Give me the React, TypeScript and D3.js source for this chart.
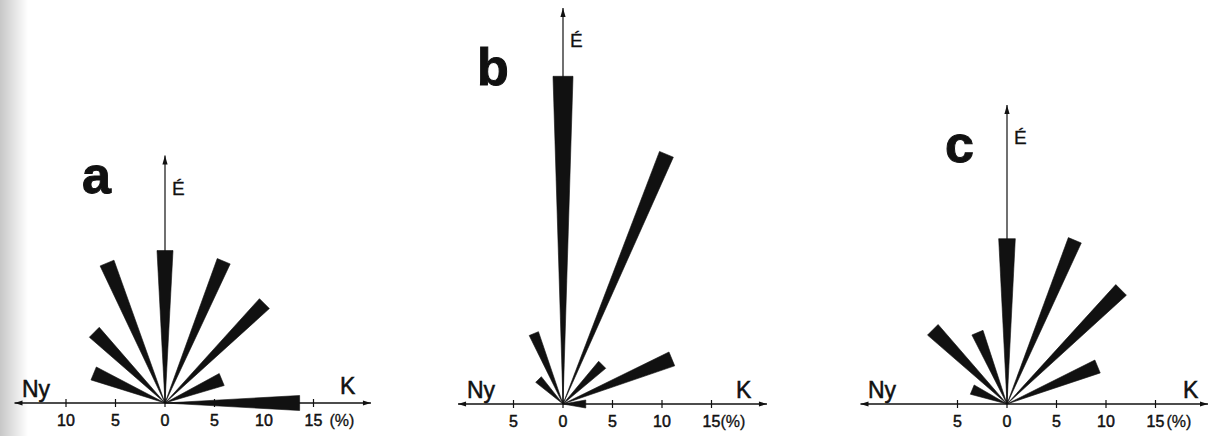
import React from 'react';
import * as d3 from 'd3';

// compass bearings, degrees clockwise from north
const BEARING: Record<string, number> = {
  WNW: -67.5, NW: -45, NNW: -22.5, N: 0, NNE: 22.5, NE: 45, ENE: 67.5, E: 90,
};

// panel a
const dirsA = ['WNW', 'NW', 'NNW', 'N', 'NNE', 'NE', 'ENE', 'E'];
const freqA = [7.8, 10.1, 15.3, 15.4, 15.5, 14.2, 6.2, 13.6];
const widthA = [7, 7, 7.5, 8, 7, 7, 6.5, 7.5];
const ticksA = [-10, -5, 0, 5, 10, 15];

// panel b
const dirsB = ['NW', 'NNW', 'N', 'NNE', 'NE', 'ENE', 'E'];
const freqB = [3.5, 7.7, 33.1, 27.3, 5.6, 11.9, 2.3];
const widthB = [4, 5, 10, 7.5, 5, 7.5, 4];
const ticksB = [-5, 0, 5, 10, 15];

// panel c
const dirsC = ['WNW', 'NW', 'NNW', 'N', 'NNE', 'NE', 'ENE'];
const freqC = [3.8, 10.6, 7.8, 16.7, 17.9, 16.3, 9.9];
const widthC = [5, 7.5, 6, 8.3, 7, 7.5, 7];
const ticksC = [-5, 0, 5, 10, 15];

const UNIT = 9.9; // px per percent
const FONT = "'Liberation Sans', Arial, sans-serif";
const INK = '#111';

const layout = [
  { name: 'a', ox: 165, oy: 403, xmin: -15.2, xmax: 20.8, ymax: 25, nyDx: -143, kDx: 175, kY: 394, letter: [82, 193], pctDx: 16 },
  { name: 'b', ox: 563, oy: 404, xmin: -10.6, xmax: 20.6, ymax: 40, nyDx: -96, kDx: 173, kY: 398, letter: [477, 85], pctDx: 9 },
  { name: 'c', ox: 1007, oy: 404, xmin: -14.8, xmax: 20.3, ymax: 30.2, nyDx: -139, kDx: 176, kY: 398, letter: [945, 162], pctDx: 11 },
];

const series = [
  { dirs: dirsA, freq: freqA, width: widthA, ticks: ticksA },
  { dirs: dirsB, freq: freqB, width: widthB, ticks: ticksB },
  { dirs: dirsC, freq: freqC, width: widthC, ticks: ticksC },
];

const wScale = d3.scaleLinear().domain([0, 1]).range([0, 2]);
const line = d3.line();

// text gets a thin outline so it reads as heavy as the printed lettering
const txt = { fontFamily: FONT, fill: INK, stroke: INK, strokeWidth: 0.5 };

function Panel({ i }: { i: number }) {
  const L = layout[i];
  const S = series[i];
  const x = d3.scaleLinear().domain([0, 1]).range([L.ox, L.ox + UNIT]);
  const y = d3.scaleLinear().domain([0, 1]).range([L.oy, L.oy - UNIT]);

  const wedges = S.dirs.map((d, k) => {
    const th = (BEARING[d] * Math.PI) / 180;
    const r = S.freq[k];
    const tx = x(r * Math.sin(th));
    const ty = y(r * Math.cos(th));
    const hw = wScale(S.width[k]) / 2;
    const px = Math.cos(th) * hw;
    const py = Math.sin(th) * hw;
    return line([[L.ox, L.oy], [tx + px, ty + py], [tx - px, ty - py]]) + 'Z';
  });

  const xl = x(L.xmin);
  const xr = x(L.xmax);
  const yt = y(L.ymax);

  return (
    <g>
      {/* horizontal axis */}
      <line x1={xl} x2={xr} y1={L.oy} y2={L.oy} stroke={INK} strokeWidth={1.3} />
      <path d={`M${xl},${L.oy}l8,-2.6v5.2z`} fill={INK} />
      <path d={`M${xr},${L.oy}l-8,-2.6v5.2z`} fill={INK} />
      {/* vertical axis */}
      <line x1={L.ox} x2={L.ox} y1={L.oy} y2={yt} stroke={INK} strokeWidth={1.2} />
      <path d={`M${L.ox},${yt}l-2.6,9h5.2z`} fill={INK} />
      {S.ticks.map((t) => (
        <g key={t}>
          <line x1={x(t)} x2={x(t)} y1={L.oy - 4} y2={L.oy + 4} stroke={INK} strokeWidth={1.2} />
          <text x={x(t)} y={L.oy + 23} textAnchor="middle" fontSize={16} {...txt}>
            {Math.abs(t)}
          </text>
        </g>
      ))}
      <text x={x(15) + L.pctDx} y={L.oy + 23} fontSize={16} {...txt} strokeWidth={0.3}>(%)</text>
      {wedges.map((p, k) => (
        <path key={k} d={p} fill={INK} stroke={INK} strokeWidth={0.6} strokeLinejoin="miter" />
      ))}
      <text x={L.ox + L.nyDx} y={L.oy - 6} fontSize={23} {...txt}>Ny</text>
      <text x={L.ox + L.kDx} y={L.kY} fontSize={23} {...txt}>K</text>
      <text x={L.ox + 7} y={yt + 39} fontSize={19} {...txt} strokeWidth={0.3}>É</text>
      <text x={L.letter[0]} y={L.letter[1]} fontSize={52} fontWeight="bold" {...txt} strokeWidth={1}>
        {L.name}
      </text>
    </g>
  );
}

export default function App() {
  return (
    <svg width={1209} height={436} style={{ position: 'absolute', left: 0, top: 0, background: '#fff' }}>
      <defs>
        <linearGradient id="edge" x1="0" x2="1" y1="0" y2="0">
          <stop offset="0" stopColor="#000" stopOpacity={0.22} />
          <stop offset="1" stopColor="#000" stopOpacity={0} />
        </linearGradient>
      </defs>
      <rect x={0} y={0} width={28} height={436} fill="url(#edge)" />
      {layout.map((_, i) => (
        <Panel key={i} i={i} />
      ))}
    </svg>
  );
}
